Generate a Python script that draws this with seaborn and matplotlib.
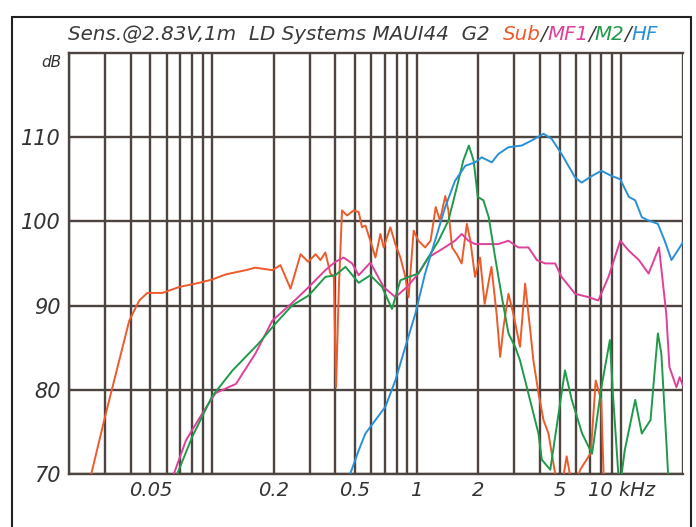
import matplotlib
matplotlib.use("Agg")
import matplotlib.pyplot as plt
import seaborn as sns
import pandas as pd
import numpy as np
from matplotlib.patches import Rectangle
from matplotlib.ticker import FixedLocator, NullFormatter, LogLocator

# ---- data (frequency in kHz, level in dB) ----
sub_f = [0.0257, 0.0303, 0.0394, 0.0441, 0.0483, 0.0573, 0.069, 0.0865, 0.1004, 0.1167,
         0.146, 0.163, 0.197, 0.216, 0.242, 0.271, 0.295, 0.321, 0.339, 0.358,
         0.379, 0.394, 0.404, 0.417, 0.432, 0.457, 0.493, 0.521, 0.541, 0.562,
         0.594, 0.629, 0.665, 0.690, 0.744, 0.787, 0.833, 0.881, 0.914, 0.967,
         1.02, 1.10, 1.17, 1.24, 1.30, 1.38, 1.43, 1.49, 1.57, 1.66,
         1.76, 1.83, 1.93, 2.04, 2.15, 2.32, 2.46, 2.56, 2.66, 2.81,
         2.97, 3.20, 3.39, 3.59, 3.72, 3.94, 4.17, 4.41, 4.57, 4.75,
         5.0, 5.41, 5.8, 6.3, 7.1, 7.5, 7.98, 8.3]
sub_db = [70.0, 77.2, 88.2, 90.6, 91.5, 91.5, 92.2, 92.7, 93.1, 93.7,
          94.2, 94.5, 94.2, 94.8, 92.0, 96.1, 95.2, 96.1, 95.4, 96.3,
          93.8, 93.4, 80.3, 92.2, 101.3, 100.7, 101.3, 101.1, 99.3, 99.5,
          97.7, 95.7, 98.5, 96.9, 99.3, 97.3, 95.7, 93.4, 91.0, 98.9,
          97.7, 96.9, 97.7, 101.7, 100.1, 103.0, 101.3, 96.9, 96.1, 95.0,
          99.7, 97.7, 93.4, 95.7, 90.2, 94.6, 89.0, 83.9, 87.5, 91.4,
          89.0, 85.1, 92.6, 87.1, 83.5, 79.6, 76.4, 74.8, 72.5, 70.1,
          67.0, 72.1, 68.0, 70.5, 72.5, 81.1, 78.8, 66.0]

mf1_f = [0.0653, 0.0746, 0.0897, 0.104, 0.131, 0.163, 0.197, 0.246, 0.297, 0.358,
         0.401, 0.440, 0.484, 0.521, 0.594, 0.690, 0.787, 0.897, 1.02, 1.14,
         1.33, 1.54, 1.66, 1.79, 1.93, 2.15, 2.51, 2.81, 3.14, 3.52,
         3.87, 4.25, 4.75, 5.11, 5.95, 6.91, 7.72, 8.66, 9.89, 10.9,
         12.2, 13.6, 15.3, 16.6, 17.2, 18.6, 19.3, 20.0]
mf1_db = [70.1, 74.0, 77.2, 79.6, 80.7, 84.3, 88.2, 90.3, 92.2, 94.2,
          95.2, 95.7, 95.0, 93.6, 95.1, 92.2, 91.0, 92.2, 93.8, 95.7,
          96.7, 97.7, 98.5, 97.7, 97.3, 97.3, 97.3, 97.7, 96.9, 96.9,
          95.4, 95.0, 95.0, 93.4, 91.4, 91.0, 90.6, 93.4, 97.7, 96.5,
          95.4, 93.8, 96.9, 89.0, 82.7, 80.3, 81.5, 80.5]

m2_f = [0.0676, 0.080, 0.100, 0.126, 0.169, 0.205, 0.246, 0.297, 0.358, 0.401,
        0.449, 0.521, 0.594, 0.678, 0.758, 0.833, 0.914, 1.02, 1.14, 1.28,
        1.43, 1.57, 1.69, 1.80, 1.90, 1.99, 2.12, 2.25, 2.42, 2.61,
        2.81, 3.03, 3.20, 3.39, 3.65, 3.94, 4.09, 4.5, 5.11, 5.31,
        5.73, 6.44, 7.2, 8.0, 8.8, 9.1, 9.8, 10.4, 11.7, 12.6,
        13.9, 15.1, 15.7, 16.6, 17.2]
m2_db = [70.0, 74.4, 79.2, 82.3, 85.5, 87.9, 90.0, 91.2, 93.4, 93.6,
         94.6, 92.7, 93.6, 92.2, 89.6, 93.0, 93.4, 93.8, 95.7, 97.7,
         100.1, 104.0, 107.2, 109.0, 107.2, 102.9, 102.5, 100.5, 95.7, 91.0,
         86.7, 85.1, 83.5, 81.1, 78.0, 74.8, 71.7, 70.5, 79.6, 82.3,
         78.8, 74.8, 72.4, 80.3, 85.9, 79.6, 68.0, 72.8, 78.8, 74.8,
         76.4, 86.7, 84.3, 74.0, 67.0]

hf_f = [0.475, 0.521, 0.562, 0.629, 0.704, 0.787, 0.881, 0.985, 1.10, 1.23,
        1.38, 1.54, 1.73, 1.93, 2.08, 2.33, 2.51, 2.81, 3.26, 3.65,
        4.17, 4.57, 5.11, 5.95, 6.4, 7.2, 8.0, 8.95, 9.88, 10.9,
        11.7, 12.6, 13.6, 15.1, 16.3, 17.6, 19.3, 20.0]
hf_db = [70.1, 72.8, 74.8, 76.4, 78.0, 81.1, 85.1, 89.0, 93.8, 97.7,
         101.7, 104.8, 106.6, 107.0, 107.6, 107.0, 108.0, 108.8, 109.0, 109.6,
         110.4, 109.8, 108.0, 105.2, 104.6, 105.4, 106.0, 105.4, 105.0, 102.9,
         102.5, 100.5, 100.1, 99.7, 97.7, 95.4, 96.9, 97.5]

series_names = ["Sub", "MF1", "M2", "HF"]
series_colors = ["#ee5a2a", "#e0409a", "#1f9a4a", "#2a90d6"]

x_tick_vals = [0.05, 0.2, 0.5, 1, 2, 5, 10]
x_tick_labels = ["0.05", "0.2", "0.5", "1", "2", "5", "10 kHz"]
y_tick_vals = [70, 80, 90, 100, 110]

frames = []
for name, f, d in zip(series_names, [sub_f, mf1_f, m2_f, hf_f],
                      [sub_db, mf1_db, m2_db, hf_db]):
    frames.append(pd.DataFrame({"freq": f, "dB": d, "series": name}))
df = pd.concat(frames, ignore_index=True)

sns.set_style("white")
plt.rcParams["font.family"] = ["DejaVu Sans"]

fig = plt.figure(figsize=(6.96, 5.27), dpi=100)
ax = fig.add_axes([0.0991, 0.1006, 0.882, 0.799])

grid_c = "#4d4440"
sns.lineplot(data=df, x="freq", y="dB", hue="series", hue_order=series_names,
             palette=series_colors, sort=False, estimator=None, lw=1.4,
             legend=False, ax=ax, zorder=3)

ax.set_xscale("log")
ax.set_xlim(0.02, 20)
ax.set_ylim(70, 120)

ax.xaxis.set_major_locator(FixedLocator(x_tick_vals))
ax.xaxis.set_minor_locator(LogLocator(base=10, subs=np.arange(1, 10)))
ax.xaxis.set_minor_formatter(NullFormatter())
ax.set_xticks(x_tick_vals)
ax.set_xticklabels(x_tick_labels)
ax.set_yticks(y_tick_vals)
ax.set_yticklabels([str(v) for v in y_tick_vals])

ax.grid(True, which="minor", axis="x", color=grid_c, lw=1.7, zorder=1)
ax.grid(True, which="major", axis="x", color=grid_c, lw=1.7, zorder=1)
ax.grid(True, which="major", axis="y", color=grid_c, lw=1.7, zorder=1)
ax.set_axisbelow(True)

for s in ["left", "bottom", "top"]:
    ax.spines[s].set_color(grid_c)
    ax.spines[s].set_linewidth(1.7)
ax.spines["right"].set_visible(False)

ax.tick_params(axis="both", which="both", length=0)
ax.tick_params(axis="x", pad=5, labelsize=14, labelcolor="#333333")
ax.tick_params(axis="y", pad=6, labelsize=15, labelcolor="#333333")
for lab in ax.get_xticklabels() + ax.get_yticklabels():
    lab.set_fontstyle("italic")
ax.set_xlabel("")
ax.set_ylabel("")

fig.text(0.088, 0.882, "dB", fontsize=11, style="italic", color="#333333",
         ha="right", va="center")

# title in coloured pieces
pieces = [("Sens.@2.83V,1m  LD Systems MAUI44  G2  ", "#3a3a3a"),
          ("Sub", series_colors[0]), ("/", "#3a3a3a"),
          ("MF1", series_colors[1]), ("/", "#3a3a3a"),
          ("M2", series_colors[2]), ("/", "#3a3a3a"),
          ("HF", series_colors[3])]
renderer = fig.canvas.get_renderer()
x0 = 68 / 696
for txt, col in pieces:
    t = fig.text(x0, 0.934, txt, fontsize=14.3, style="italic", color=col,
                 ha="left", va="center")
    bb = t.get_window_extent(renderer=renderer)
    x0 += bb.width / fig.bbox.width

# outer frame
fig.patches.append(Rectangle((12 / 696, -0.02), (691 - 12) / 696, 1 - 17 / 527 + 0.02,
                             transform=fig.transFigure, fill=False,
                             edgecolor="#222222", lw=1.5))

fig.savefig("out.png", dpi=100)
